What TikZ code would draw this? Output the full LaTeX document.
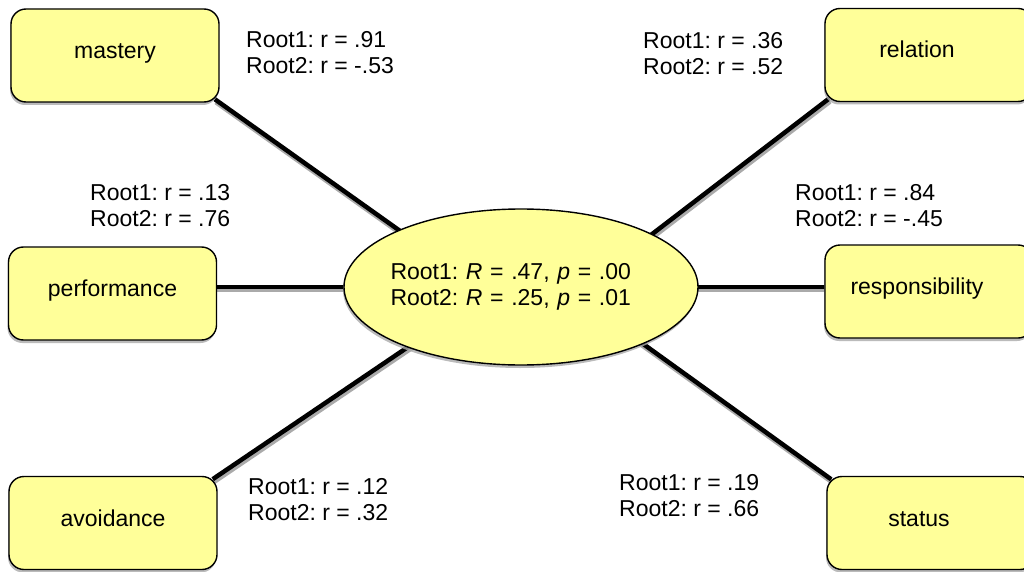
\documentclass[tikz,border=0pt]{standalone}
\usepackage{fontspec}
\setmainfont{Liberation Sans}
\usetikzlibrary{shapes.geometric,shadows}
\pgfdeclarelayer{background}
\pgfsetlayers{background,main}
\definecolor{boxfill}{RGB}{255,255,153}
\definecolor{shade}{RGB}{170,170,170}

\begin{document}
\begin{tikzpicture}[x=1pt, y=-1pt,
  every node/.style={font=\fontsize{23}{26}\selectfont\frenchspacing},
  softshadow/.style={drop shadow={shadow xshift=-1pt, shadow yshift=-3pt, fill=shade, opacity=0.8}},
  box/.style={draw=black, line width=1.4pt, fill=boxfill, rounded corners=15pt,
    minimum width=208pt, minimum height=93pt, inner sep=0pt,
    text height=12pt, text depth=6pt, softshadow},
  rbox/.style={box, execute at end node={\kern24pt}},
  hub/.style={ellipse, draw=black, line width=1.4pt, fill=boxfill,
    minimum width=354pt, minimum height=156pt, inner ysep=0pt, inner xsep=-20pt,
    text width=261pt, align=left, softshadow},
  stat/.style={anchor=base west, align=left, inner sep=0pt},
  link/.style={line width=4.5pt,
    preaction={draw=shade, line width=4.5pt, transform canvas={xshift=1pt, yshift=-3pt}}}
]
\useasboundingbox (0,0) rectangle (1024,572);

% factor boxes
\node[box]  (mastery)        at (115,55.5)  {mastery};
\node[rbox] (relation)       at (929,55)    {relation};
\node[box]  (performance)    at (112.5,293.5) {performance};
\node[rbox] (responsibility) at (929,291.5) {responsibility};
\node[box]  (avoidance)      at (113,523)   {avoidance};
\node[rbox] (status)         at (931,523)   {status};

% canonical roots
\node[hub] (hub) at (521,287)
  {Root1: \textit{R} = .47, \textit{p} = .00\\Root2: \textit{R} = .25, \textit{p} = .01};

% loadings (anchored on the baseline of the second line)
\node[stat] (lmastery)  at (246,74)  {Root1: r = .91\\Root2: r = -.53};
\node[stat] (lrelation) at (643,75)  {Root1: r = .36\\Root2: r = .52};
\node[stat] (lperf)     at (90,226)  {Root1: r = .13\\Root2: r = .76};
\node[stat] (lresp)     at (795,226) {Root1: r = .84\\Root2: r = -.45};
\node[stat] (lavoid)    at (248,520) {Root1: r = .12\\Root2: r = .32};
\node[stat] (lstatus)   at (619,516) {Root1: r = .19\\Root2: r = .66};

% connectors behind the shapes
\begin{pgfonlayer}{background}
  \draw[link, shorten <=-6pt, shorten >=-6pt] (mastery.south east) -- (hub.155);
  \draw[link, shorten <=-6pt, shorten >=-6pt] (relation.south west) -- (hub.22);
  \draw[link, shorten <=-6pt, shorten >=-6pt] (avoidance.north east) -- (hub.208);
  \draw[link, shorten <=-6pt, shorten >=-6pt] (status.north west) -- (hub.335);
  \draw[link, shorten <=-4pt, shorten >=-4pt] (performance.east |- hub.west) -- (hub.west);
  \draw[link, shorten <=-4pt, shorten >=-4pt] (hub.east) -- (responsibility.west |- hub.east);
\end{pgfonlayer}
\end{tikzpicture}
\end{document}
